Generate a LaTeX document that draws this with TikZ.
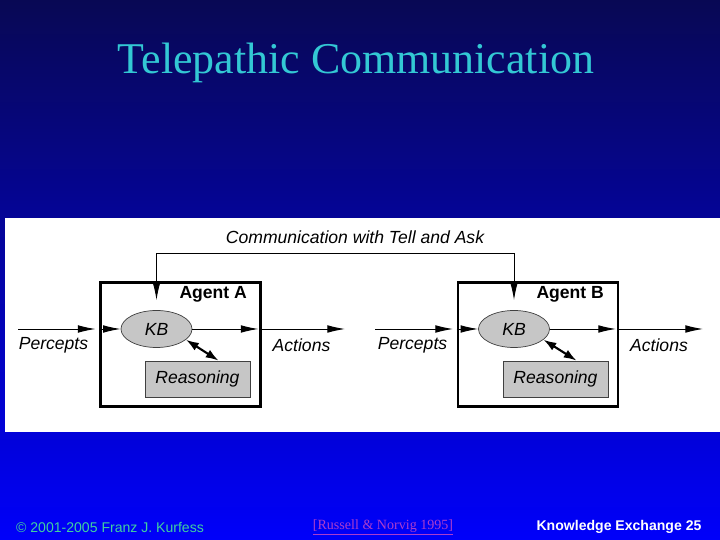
\documentclass[tikz,border=0pt]{standalone}
\usepackage{fontspec}
\setmainfont{Liberation Serif}
\setsansfont{Liberation Sans}
\usetikzlibrary{arrows.meta,shapes.geometric}
\definecolor{slidetop}{RGB}{8,8,84}
\definecolor{slidebot}{RGB}{0,0,250}
\definecolor{ttl}{RGB}{51,200,212}
\definecolor{cpy}{RGB}{64,208,160}
\definecolor{cite}{RGB}{170,60,205}
\definecolor{kbfill}{RGB}{198,198,198}

\begin{document}
\begin{tikzpicture}[x=0.03cm, y=0.03cm,
    agent/.style={draw=black, line width=2.5pt, minimum width=4.8cm,
                  minimum height=3.72cm, inner sep=0pt},
    kb/.style={ellipse, draw=black!75, fill=kbfill, line width=0.6pt,
               minimum width=2.13cm, minimum height=1.11cm, inner sep=0pt,
               font=\sffamily\itshape\fontsize{15}{18}\selectfont},
    reas/.style={draw=black!75, fill=kbfill, line width=0.6pt,
                 minimum width=3.15cm, minimum height=1.08cm, inner sep=0pt,
                 font=\sffamily\itshape\fontsize{15}{18}\selectfont},
    flow/.style={draw=black, line width=0.8pt, -{Latex[length=15pt,width=6.5pt]}},
    dbl/.style={draw=black, line width=1.8pt,
                {Latex[length=11pt,width=7.5pt]}-{Latex[length=11pt,width=7.5pt]}},
    lab/.style={font=\sffamily\itshape\fontsize{15}{18}\selectfont},
    hd/.style={font=\sffamily\bfseries\fontsize{15}{18}\selectfont, anchor=east},
    foot/.style={font=\sffamily\fontsize{12}{14}\selectfont}]
  \useasboundingbox (0,0) rectangle (720,540);
  \shade[top color=slidetop, bottom color=slidebot] (0,0) rectangle (720,540);
  \fill[white] (5,108) rectangle (720,322);

  \node[font=\rmfamily\fontsize{37.5}{40}\selectfont, text=ttl, anchor=base]
    (title) at (356,466) {Telepathic Communication};

  % agent A
  \node[agent] (boxA) at (180.5,195.5) {};
  \node[hd] (agA) at (251,246) {Agent A};
  \node[kb] (kbA) at (156.5,211) {KB};
  \node[reas] (reasA) at (197.5,161) {Reasoning};
  \coordinate (pinA) at (18,211);
  \coordinate (outA) at (345,211);
  \draw[flow, shorten >=3pt] (pinA) -- (boxA.west |- pinA);
  \draw[flow] (boxA.west |- kbA.west) -- (kbA.west);
  \draw[flow, shorten >=3pt] (kbA.east) -- (boxA.east |- kbA.east);
  \draw[flow] (boxA.east |- kbA.east) -- (outA);
  \draw[dbl] (kbA.-20) -- (reasA.41);
  \node[lab] (pcA) at (53.5,195) {Percepts};
  \node[lab] (acA) at (301.5,195) {Actions};

  % agent B
  \node[agent] (boxB) at (538,195.5) {};
  \node[hd] (agB) at (608,246) {Agent B};
  \node[kb] (kbB) at (514,211) {KB};
  \node[reas] (reasB) at (555.5,161) {Reasoning};
  \coordinate (pinB) at (375,211);
  \coordinate (outB) at (703,211);
  \draw[flow, shorten >=3pt] (pinB) -- (boxB.west |- pinB);
  \draw[flow] (boxB.west |- kbB.west) -- (kbB.west);
  \draw[flow, shorten >=3pt] (kbB.east) -- (boxB.east |- kbB.east);
  \draw[flow] (boxB.east |- kbB.east) -- (outB);
  \draw[dbl] (kbB.-20) -- (reasB.41);
  \node[lab] (pcB) at (412.5,195) {Percepts};
  \node[lab] (acB) at (659,195) {Actions};

  % tell and ask
  \node[lab] (tell) at (355,303) {Communication with Tell and Ask};
  \coordinate (wire) at (336,287);
  \draw[flow, shorten >=0.3cm] (wire) -| (kbA.north);
  \draw[flow, shorten >=0.3cm] (wire) -| (kbB.north);

  % footer
  \node[foot, text=cpy, anchor=west] (copy) at (12,13) {© 2001-2005 Franz J. Kurfess};
  \node[font=\rmfamily\fontsize{12}{14}\selectfont, text=cite]
    (ref) at (383,13) {\underline{[Russell \& Norvig 1995]}};
  \node[foot, font=\sffamily\bfseries\fontsize{12}{14}\selectfont, text=white]
    (num) at (619,13) {Knowledge Exchange 25};
\end{tikzpicture}
\end{document}
